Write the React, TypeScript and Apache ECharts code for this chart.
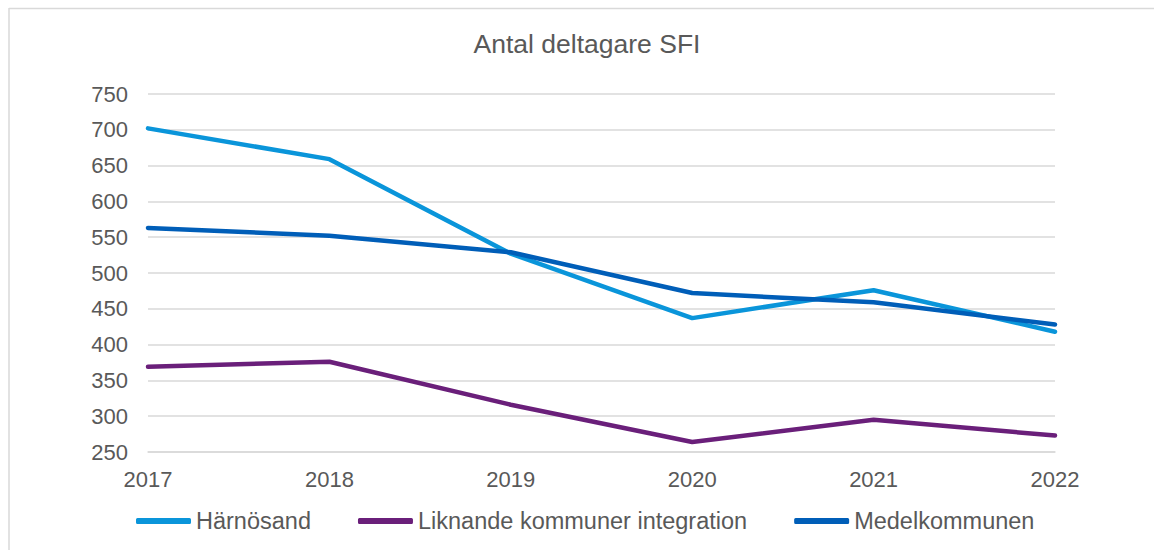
import React, { useEffect, useRef } from "react";
import * as echarts from "echarts";

const categories = ["2017", "2018", "2019", "2020", "2021", "2022"];
const harnosand = [702, 659, 527, 437, 476, 418];
const liknande = [369, 376, 316, 264, 295, 273];
const medel = [563, 552, 529, 472, 459, 428];
const seriesNames = ["Härnösand", "Liknande kommuner integration", "Medelkommunen"];
const colors = ["#0A95DA", "#6A1F7A", "#005EB8"];

export default function App() {
  const ref = useRef<HTMLDivElement>(null);
  useEffect(() => {
    if (!ref.current) return;
    const chart = echarts.init(ref.current, null, { renderer: "svg" });
    const textColor = "#595959";
    const font = "'Liberation Sans', Arial, sans-serif";
    const data = [harnosand, liknande, medel];
    chart.setOption({
      animation: false,
      backgroundColor: "#ffffff",
      title: {
        text: "Antal deltagare SFI",
        left: 582,
        textAlign: "center",
        top: 25,
        textStyle: { color: textColor, fontSize: 26.5, fontWeight: "normal", fontFamily: font },
      },
      grid: { left: 148, right: 99, top: 94, bottom: 98, containLabel: false },
      xAxis: {
        type: "category",
        data: categories,
        boundaryGap: false,
        axisLine: { show: true, lineStyle: { color: "#D9D9D9", width: 1.5 } },
        axisTick: { show: false },
        axisLabel: { color: textColor, fontSize: 22, fontFamily: font, margin: 16 },
        splitLine: { show: false },
      },
      yAxis: {
        type: "value",
        min: 250,
        max: 750,
        interval: 50,
        axisLine: { show: false },
        axisTick: { show: false },
        axisLabel: { color: textColor, fontSize: 22, fontFamily: font, margin: 20 },
        splitLine: { show: true, lineStyle: { color: "#D9D9D9", width: 1.5 } },
      },
      legend: {
        left: 131,
        top: 504,
        itemWidth: 55,
        itemHeight: 6,
        itemGap: 47,
        icon: "roundRect",
        textStyle: { color: textColor, fontSize: 23.5, fontFamily: font },
        data: seriesNames,
      },
      graphic: [
        { type: "line", shape: { x1: 9, y1: 8.5, x2: 1154, y2: 8.5 }, style: { stroke: "#D9D9D9", lineWidth: 1.5 } },
        { type: "line", shape: { x1: 9, y1: 8, x2: 9, y2: 550 }, style: { stroke: "#D9D9D9", lineWidth: 1.5 } },
      ],
      series: seriesNames.map((name, i) => ({
        name,
        type: "line",
        data: data[i],
        symbol: "none",
        lineStyle: { color: colors[i], width: 4.5, cap: "round", join: "round" },
        itemStyle: { color: colors[i] },
      })),
    });
    return () => chart.dispose();
  }, []);
  return (
    <div
      ref={ref}
      style={{ position: "absolute", left: 0, top: 0, width: 1154, height: 550 }}
    />
  );
}
